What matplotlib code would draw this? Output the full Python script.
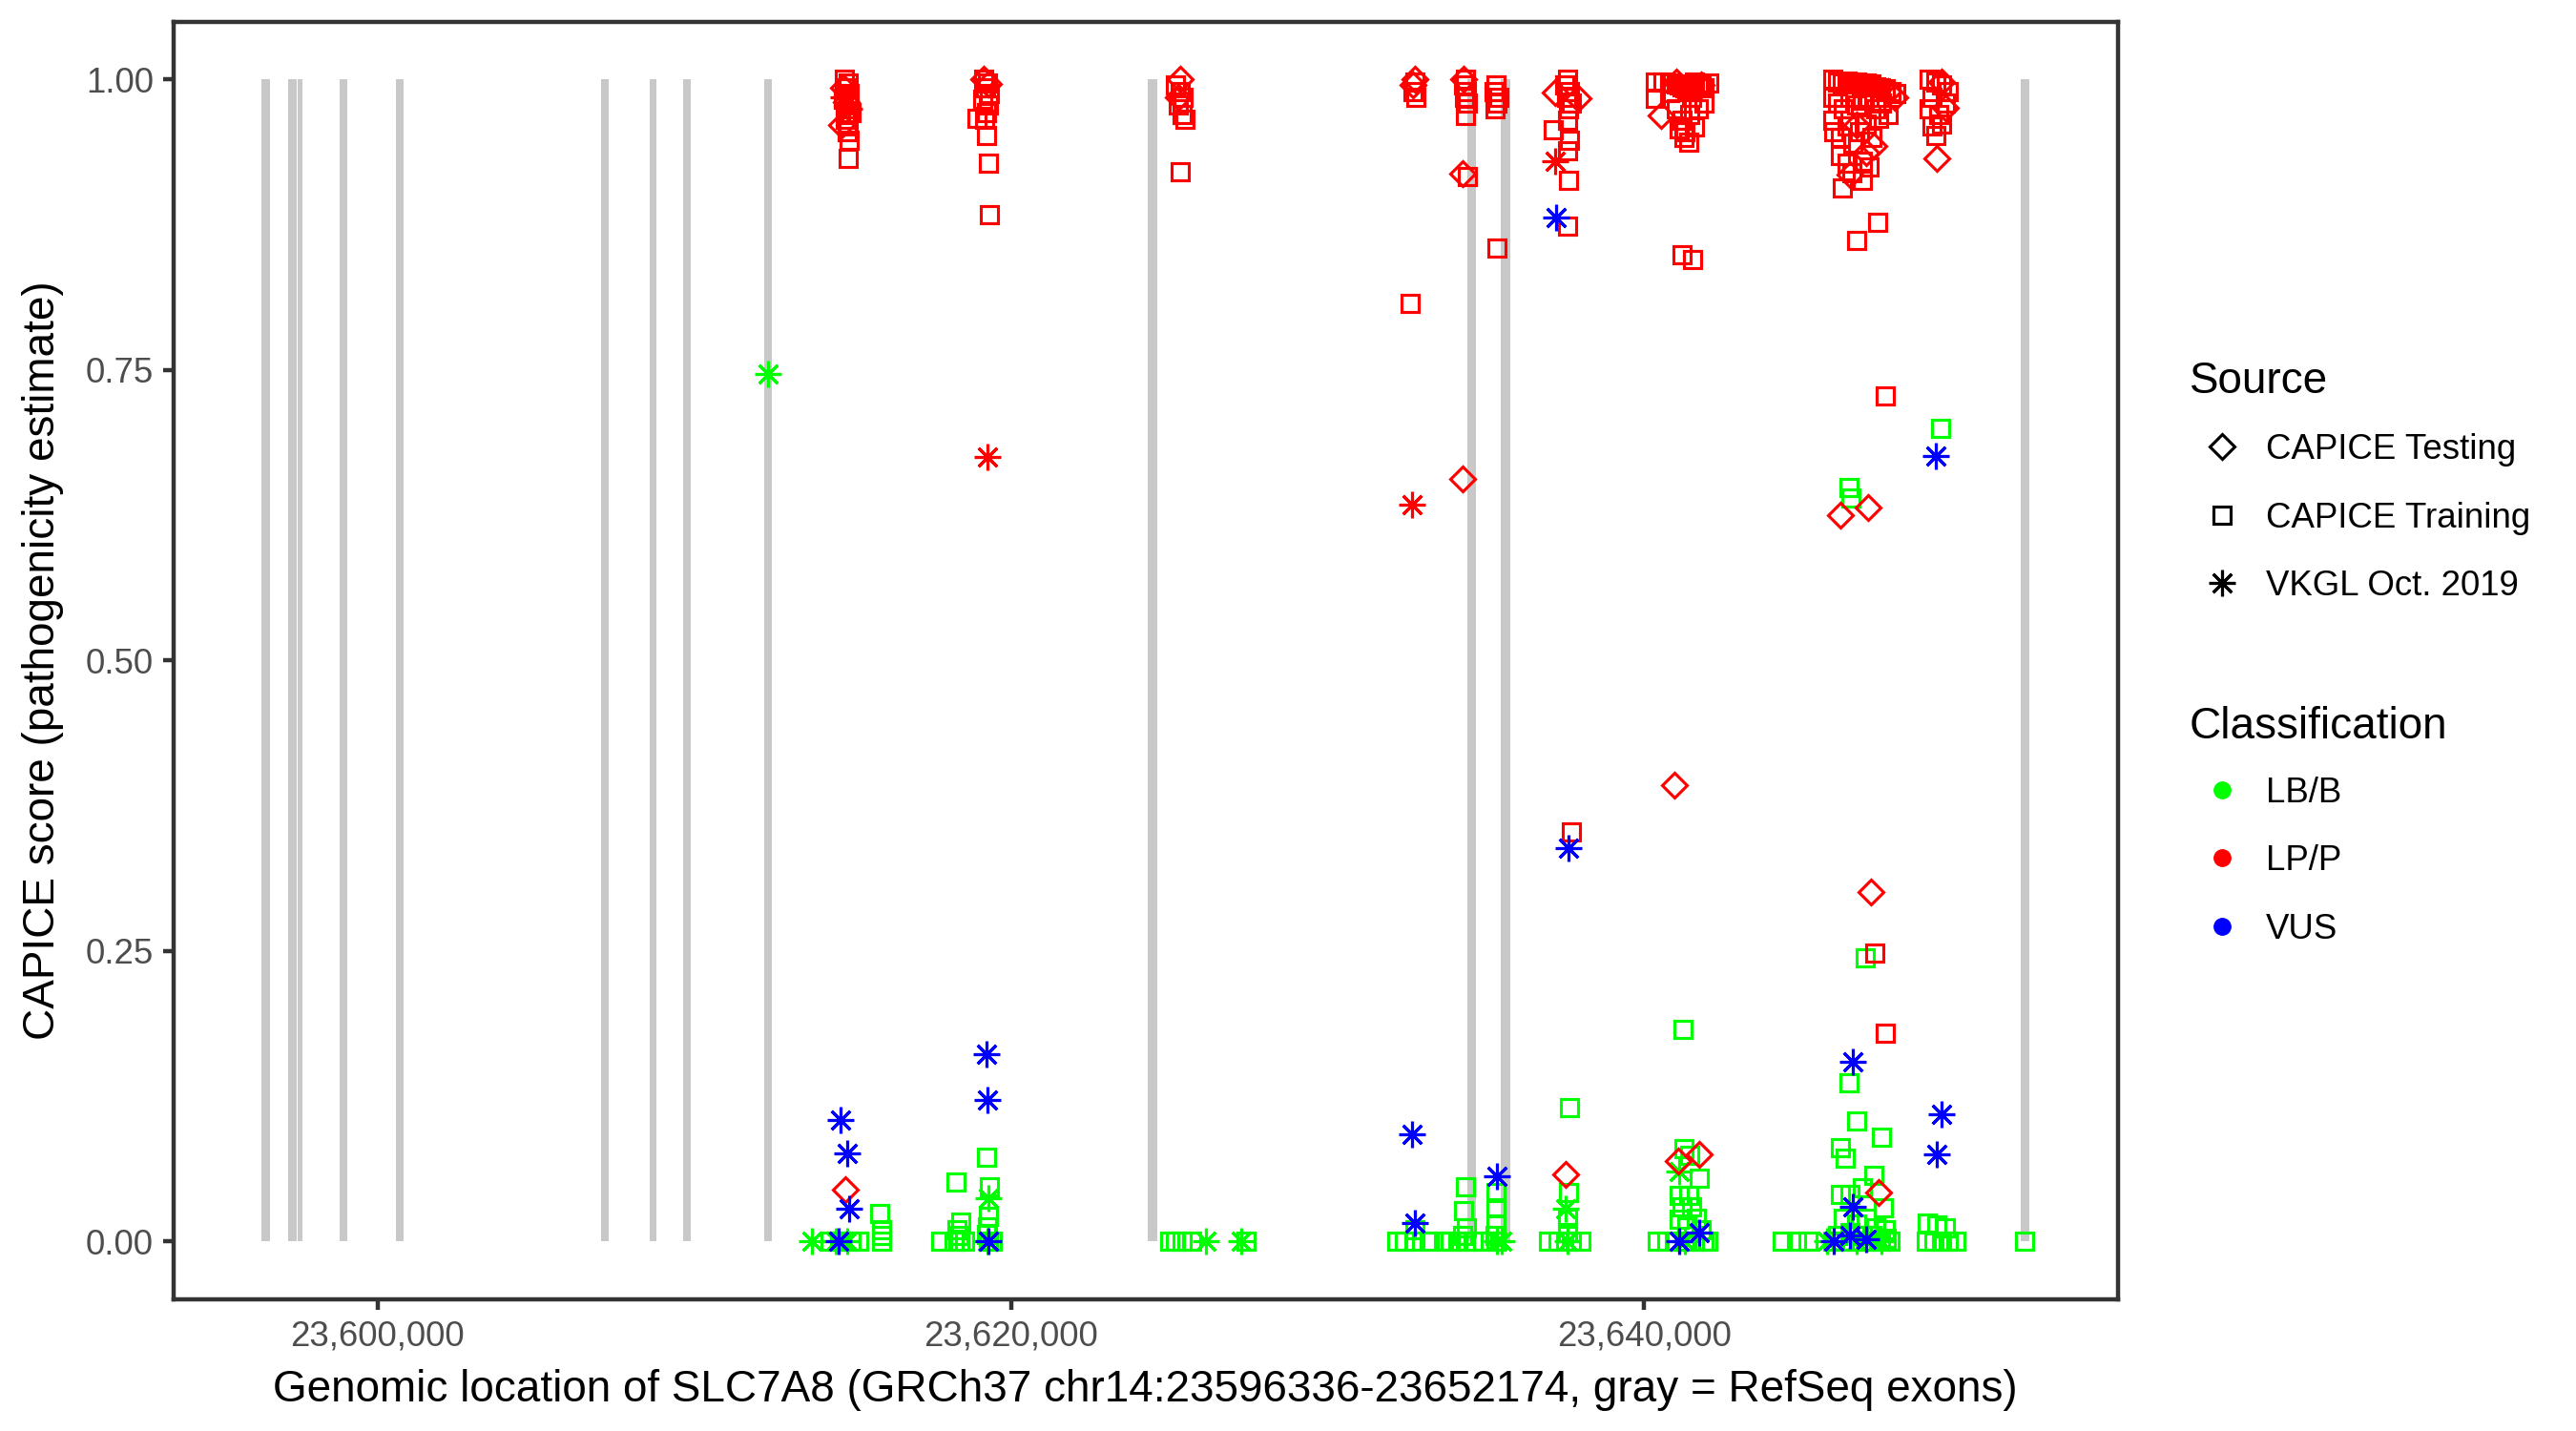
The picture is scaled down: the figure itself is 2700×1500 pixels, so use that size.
import matplotlib
matplotlib.use("Agg")
import matplotlib.pyplot as plt
from matplotlib.lines import Line2D
from matplotlib.ticker import FuncFormatter

plt.rcParams['font.family'] = ['Liberation Sans', 'DejaVu Sans']

# ---------------- data ----------------
exon_start = [23596336, 23597182, 23597482, 23598791, 23600581, 23607063, 23608582,
              23609635, 23612222, 23624314, 23634421, 23635473, 23651897]
exon_end = [23596610, 23597452, 23597633, 23599046, 23600821, 23607303, 23608792,
            23609875, 23612462, 23624614, 23634691, 23635774, 23652174]

# CAPICE Training, LB/B
train_lbb_pos = [23614300, 23614600, 23614950, 23615200, 23615861, 23615921, 23615921, 23615900,
                 23617786, 23618268, 23618418, 23618300, 23618350, 23618200, 23618400, 23618550,
                 23619230, 23619320, 23619290, 23619260, 23619230, 23619300, 23619400,
                 23625006, 23625200, 23625400, 23625698, 23627412,
                 23632200, 23632440, 23632766, 23632766, 23633210, 23633660,
                 23633870, 23634120, 23634360, 23634300, 23634400, 23634250, 23634360, 23634600, 23634900,
                 23635323, 23635323, 23635323, 23635300, 23635323,
                 23637639, 23637609, 23637579, 23637579, 23636970, 23637270, 23637700, 23638000,
                 23641218, 23641248, 23641429, 23641729, 23641100, 23641400, 23641200, 23641500,
                 23641100, 23641350, 23641650, 23641800, 23640400, 23640700, 23641000, 23641300,
                 23641600, 23641900, 23642000,
                 23644347, 23644800, 23645159,
                 23646994, 23646483, 23646723, 23647506, 23646212, 23646363, 23647265, 23646212,
                 23646500, 23646900, 23647550, 23646300, 23646700, 23647000, 23647300, 23647600,
                 23646100, 23646500, 23646900, 23647200, 23647650, 23645950, 23646250, 23646550,
                 23646850, 23647150, 23647450, 23647750, 23646483, 23646520,
                 23649370, 23648950, 23649250, 23649500, 23648919, 23649150, 23649400, 23649600,
                 23649851, 23652017]
train_lbb_score = [0.0, 0.0, 0.0, 0.0, 0.024, 0.010, 0.005, 0.0,
                   0.0, 0.051, 0.017, 0.010, 0.005, 0.0, 0.0, 0.0,
                   0.073, 0.047, 0.022, 0.013, 0.006, 0.0, 0.0,
                   0.0, 0.0, 0.0, 0.0, 0.0,
                   0.0, 0.0, 0.010, 0.0, 0.0, 0.0,
                   0.0, 0.0, 0.047, 0.027, 0.012, 0.005, 0.0, 0.0, 0.0,
                   0.042, 0.029, 0.015, 0.005, 0.0,
                   0.115, 0.042, 0.020, 0.008, 0.0, 0.0, 0.0, 0.0,
                   0.183, 0.080, 0.074, 0.055, 0.040, 0.040, 0.030, 0.030,
                   0.019, 0.013, 0.020, 0.010, 0.0, 0.0, 0.0, 0.0,
                   0.0, 0.0, 0.0,
                   0.0, 0.0, 0.0,
                   0.244, 0.137, 0.104, 0.090, 0.081, 0.072, 0.057, 0.041,
                   0.041, 0.046, 0.029, 0.020, 0.015, 0.020, 0.012, 0.010,
                   0.005, 0.008, 0.005, 0.005, 0.003, 0.0, 0.0, 0.0,
                   0.0, 0.0, 0.0, 0.0, 0.649, 0.640,
                   0.700, 0.016, 0.014, 0.012, 0.0, 0.0, 0.0, 0.0,
                   0.0, 0.0]

# CAPICE Training, LP/P
train_lpp_pos = [23614750, 23614869, 23614800, 23614900, 23614700, 23614850, 23614950, 23614780,
                 23614869, 23614820, 23614900, 23614869,
                 23619150, 23619260, 23619200, 23619320, 23619100, 23619290, 23619230, 23619170,
                 23618930, 23619230, 23619290, 23619320,
                 23625200, 23625337, 23625450, 23625300, 23625400, 23625500, 23625337,
                 23632766, 23632700, 23632800, 23632600,
                 23634360, 23634300, 23634400, 23634330, 23634420, 23634360, 23634421,
                 23635323, 23635250, 23635400, 23635350, 23635300, 23635353,
                 23637579, 23637500, 23637650, 23637550, 23637700, 23637600, 23637579, 23637128,
                 23637639, 23637579, 23637609, 23637579, 23637699,
                 23640346, 23640346, 23640600, 23640800, 23641000, 23641000, 23641100, 23641100,
                 23641200, 23641200, 23641300, 23641300, 23641400, 23641400, 23641500, 23641500,
                 23641600, 23641600, 23641700, 23641700, 23641800, 23641900, 23641900, 23642030,
                 23640800, 23641450, 23641250, 23641188, 23641519,
                 23645950, 23646100, 23646250, 23646400, 23646550, 23646700, 23646850, 23647000,
                 23647150, 23647300, 23647450, 23647600, 23647800, 23647957,
                 23645950, 23646100, 23646300, 23646500, 23646700, 23646900, 23647100, 23647300,
                 23647500, 23647700,
                 23645950, 23646000, 23646200, 23646400, 23646600, 23646800, 23647000, 23647200,
                 23647400,
                 23646200, 23646400, 23646550, 23646900, 23647100, 23646250, 23646900,
                 23647385, 23646723, 23647626, 23647295, 23647626,
                 23649000, 23649200, 23649400, 23649600, 23649100, 23649500, 23649000, 23649300,
                 23649100, 23649400, 23649220]
train_lpp_score = [1.000, 0.997, 0.993, 0.988, 0.983, 0.978, 0.972, 0.966,
                   0.960, 0.955, 0.948, 0.932,
                   1.000, 0.997, 0.993, 0.988, 0.983, 0.978, 0.972, 0.966,
                   0.967, 0.952, 0.928, 0.884,
                   0.995, 0.990, 0.985, 0.978, 0.970, 0.966, 0.921,
                   0.998, 0.990, 0.985, 0.807,
                   1.000, 0.995, 0.990, 0.985, 0.980, 0.969, 0.917,
                   0.995, 0.990, 0.985, 0.980, 0.975, 0.855,
                   1.000, 0.995, 0.990, 0.985, 0.980, 0.975, 0.965, 0.957,
                   0.948, 0.939, 0.913, 0.874, 0.353,
                   0.998, 0.984, 0.998, 0.997, 0.996, 0.975, 0.995, 0.958,
                   0.994, 0.965, 0.993, 0.955, 0.992, 0.946, 0.990, 0.985,
                   0.998, 0.959, 0.996, 0.975, 0.995, 0.993, 0.980, 0.997,
                   0.989, 0.970, 0.950, 0.849, 0.845,
                   1.000, 0.998, 0.997, 0.999, 0.996, 0.998, 0.995, 0.997,
                   0.996, 0.994, 0.993, 0.992, 0.990, 0.988,
                   0.985, 0.980, 0.975, 0.985, 0.978, 0.982, 0.985, 0.975,
                   0.980, 0.970,
                   0.965, 0.955, 0.950, 0.960, 0.945, 0.955, 0.962, 0.950,
                   0.967,
                   0.935, 0.928, 0.920, 0.930, 0.925, 0.907, 0.913,
                   0.877, 0.862, 0.728, 0.248, 0.179,
                   1.000, 0.998, 0.995, 0.990, 0.985, 0.980, 0.975, 0.970,
                   0.960, 0.962, 0.952]

# CAPICE Testing, LP/P
test_lpp_pos = [23614778, 23614700, 23614800, 23614650,
                23619150, 23619300, 23625337, 23625300,
                23632766, 23632700, 23634270, 23634270, 23634300,
                23637519, 23637200, 23637900,
                23640527, 23640948, 23641068, 23641729, 23641000, 23641800,
                23647174, 23647415, 23646212, 23647080,
                23646723, 23647000, 23647265, 23646500, 23647700, 23647900,
                23649400, 23649500, 23649250]
test_lpp_score = [0.045, 0.993, 0.981, 0.961,
                  1.000, 0.996, 1.000, 0.985,
                  1.000, 0.995, 0.656, 0.919, 1.000,
                  0.058, 0.989, 0.984,
                  0.969, 0.393, 0.069, 0.0755, 0.998, 0.995,
                  0.301, 0.042, 0.625, 0.632,
                  0.961, 0.937, 0.943, 0.918, 0.990, 0.985,
                  0.998, 0.976, 0.932]

# VKGL Oct. 2019, LB/B
vkgl_lbb_pos = [23612342, 23613726, 23614478, 23614830, 23619290, 23619260,
                23626149, 23627262, 23635353, 23635500, 23637519, 23637579,
                23641098, 23641300, 23645790, 23646700, 23647500]
vkgl_lbb_score = [0.747, 0.0, 0.0, 0.0, 0.037, 0.0,
                  0.0, 0.0, 0.0, 0.0, 0.028, 0.0,
                  0.060, 0.0, 0.0, 0.0, 0.0]

# VKGL Oct. 2019, LP/P
vkgl_lpp_pos = [23619260, 23632676, 23637188, 23614700, 23614900]
vkgl_lpp_score = [0.675, 0.634, 0.930, 0.985, 0.975]

# VKGL Oct. 2019, VUS
vkgl_vus_pos = [23614568, 23614628, 23614838, 23614899, 23619230, 23619260, 23619290,
                23632676, 23632766, 23635353, 23637218, 23637609, 23641098, 23641729,
                23646603, 23646603, 23646500, 23646000, 23647000,
                23649400, 23649250, 23649220]
vkgl_vus_score = [0.0, 0.105, 0.076, 0.028, 0.161, 0.122, 0.0,
                  0.092, 0.016, 0.056, 0.881, 0.339, 0.0, 0.008,
                  0.155, 0.030, 0.005, 0.0, 0.002,
                  0.110, 0.075, 0.676]

x_ticks = [23600000, 23620000, 23640000]
y_ticks = [0.0, 0.25, 0.50, 0.75, 1.00]
source_labels = ["CAPICE Testing", "CAPICE Training", "VKGL Oct. 2019"]
class_labels = ["LB/B", "LP/P", "VUS"]
class_colors = {"LB/B": "#00FF00", "LP/P": "#FF0000", "VUS": "#0000FF"}
chr_start, chr_end = 23596336, 23652174

# ---------------- figure ----------------
W, H = 2700, 1500
fig = plt.figure(figsize=(9, 5), dpi=300)
L, R, T, B = 181.6, 2220.0, 22.5, 1362.4
ax = fig.add_axes([L / W, 1 - B / H, (R - L) / W, (B - T) / H])

span = chr_end - chr_start
ax.set_xlim(chr_start - 0.05 * span, chr_end + 0.05 * span)
ax.set_ylim(-0.05, 1.05)

# exons
ax.bar([s for s in exon_start], [1.0] * len(exon_start),
       width=[e - s for s, e in zip(exon_start, exon_end)], bottom=0, align='edge',
       color='#C8C8C8', linewidth=0, zorder=1)

marker_map = {"CAPICE Testing": 'D', "CAPICE Training": 's', "VKGL Oct. 2019": (8, 2, 0)}
size_map = {"CAPICE Testing": 4.3, "CAPICE Training": 4.2, "VKGL Oct. 2019": 6.6}
mew = 0.75

groups = [
    ("CAPICE Training", "LB/B", train_lbb_pos, train_lbb_score),
    ("VKGL Oct. 2019", "LB/B", vkgl_lbb_pos, vkgl_lbb_score),
    ("CAPICE Training", "LP/P", train_lpp_pos, train_lpp_score),
    ("CAPICE Testing", "LP/P", test_lpp_pos, test_lpp_score),
    ("VKGL Oct. 2019", "LP/P", vkgl_lpp_pos, vkgl_lpp_score),
    ("VKGL Oct. 2019", "VUS", vkgl_vus_pos, vkgl_vus_score),
]
for i, (src, cls, xs, ys) in enumerate(groups):
    ax.plot(xs, ys, linestyle='none', marker=marker_map[src], markersize=size_map[src],
            markerfacecolor='none', markeredgecolor=class_colors[cls],
            markeredgewidth=mew, zorder=3 + i)

# axes styling
for sp in ax.spines.values():
    sp.set_color('#333333')
    sp.set_linewidth(1.07)
ax.set_xticks(x_ticks)
ax.set_yticks(y_ticks)
ax.xaxis.set_major_formatter(FuncFormatter(lambda v, p: f"{int(round(v)):,}"))
ax.yaxis.set_major_formatter(FuncFormatter(lambda v, p: f"{v:.2f}"))
ax.tick_params(axis='both', which='major', length=2.75, width=1.07, color='#333333',
               labelsize=8.8, labelcolor='#4D4D4D', pad=2.2)
ax.set_xlabel("Genomic location of SLC7A8 (GRCh37 chr14:23596336-23652174, gray = RefSeq exons)",
              fontsize=11, color='black', labelpad=4.0)
ax.set_ylabel("CAPICE score (pathogenicity estimate)", fontsize=11, color='black', labelpad=5.5)

# ---------------- legend (manual) ----------------
def fx(px):
    return px / W

def fy(py):
    return 1 - py / H

fig.text(fx(2295), fy(411.6), "Source", fontsize=11, ha='left', va='baseline')
src_key_y = [468, 539.5, 611]
src_txt_y = [481, 552.5, 624]
for lab, ky, ty in zip(source_labels, src_key_y, src_txt_y):
    fig.add_artist(Line2D([fx(2329)], [fy(ky)], transform=fig.transFigure, linestyle='none',
                          marker=marker_map[lab], markersize=size_map[lab],
                          markerfacecolor='none', markeredgecolor='black', markeredgewidth=mew))
    fig.text(fx(2375), fy(ty), lab, fontsize=8.8, ha='left', va='baseline')

fig.text(fx(2295), fy(773.6), "Classification", fontsize=11, ha='left', va='baseline')
cls_key_y = [828, 899.4, 971]
cls_txt_y = [841, 912.4, 984]
for lab, ky, ty in zip(class_labels, cls_key_y, cls_txt_y):
    fig.add_artist(Line2D([fx(2329)], [fy(ky)], transform=fig.transFigure, linestyle='none',
                          marker='o', markersize=4.2, markerfacecolor=class_colors[lab],
                          markeredgecolor=class_colors[lab], markeredgewidth=0.3))
    fig.text(fx(2375), fy(ty), lab, fontsize=8.8, ha='left', va='baseline')

fig.savefig("out.png", dpi=300, facecolor='white')
